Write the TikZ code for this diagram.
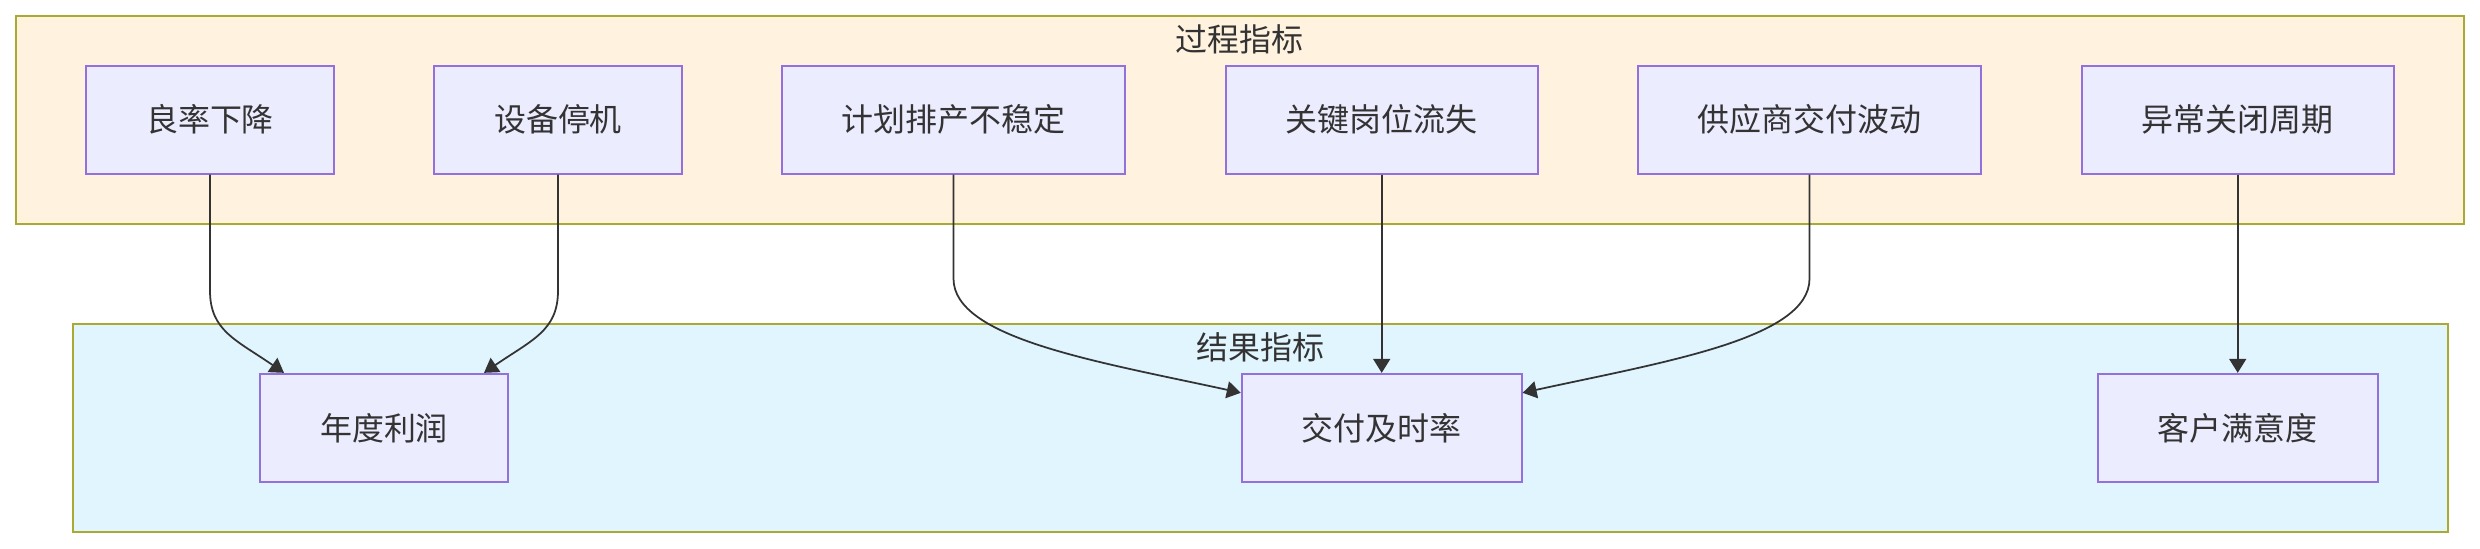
\documentclass[tikz,border=0pt]{standalone}
\usepackage{fontspec}
\usepackage{tikz}
\usetikzlibrary{arrows.meta, positioning, calc}
\newfontfamily\cjk{Noto Sans CJK SC}
\definecolor{mytext}{RGB}{51,51,51}
\definecolor{mypurple}{RGB}{147,112,219}
\definecolor{mylilac}{RGB}{236,236,255}
\definecolor{myolive}{RGB}{170,170,51}
\definecolor{mycream}{RGB}{255,243,224}
\definecolor{mysky}{RGB}{225,245,254}
\tikzset{
  box/.style={rectangle, draw=mypurple, fill=mylilac,
    inner xsep=1.2cm, inner ysep=0pt, minimum height=2.16cm,
    text=mytext, font=\cjk\fontsize{18.2}{22}\selectfont, line width=1.1pt},
  cluster/.style={rectangle, draw=myolive, inner sep=0pt,
    minimum height=4.16cm, line width=1.1pt},
  grouptitle/.style={text=mytext, font=\cjk\fontsize{18.2}{22}\selectfont},
  arrow/.style={-{Triangle[length=0.28cm, width=0.34cm]}, line width=1pt, color=mytext}
}

\begin{document}
\begin{tikzpicture}[x=0.02cm, y=0.02cm]
  \useasboundingbox (0,0) rectangle (2480,-548);

  % Process indicators
  \node[cluster, fill=mycream, minimum width=48.97cm] (proc) at (1239.8,-119.7) {};
  \node[grouptitle] (proct) at (1239.8,-39) {过程指标};
  \node[box] (lr) at (210,-119.7) {良率下降};
  \node[box] (sb) at (558,-119.7) {设备停机};
  \node[box] (jh) at (953.5,-119.7) {计划排产不稳定};
  \node[box] (gj) at (1381.7,-119.7) {关键岗位流失};
  \node[box] (gy) at (1809.5,-119.7) {供应商交付波动};
  \node[box] (yc) at (2237.7,-119.7) {异常关闭周期};

  % Result indicators
  \node[cluster, fill=mysky, minimum width=47.5cm] (res) at (1260.3,-427.8) {};
  \node[grouptitle] (rest) at (1260.3,-347) {结果指标};
  \node[box] (np) at (384,-427.8) {年度利润};
  \node[box] (jf) at (1381.7,-427.8) {交付及时率};
  \node[box] (kh) at (2237.7,-427.8) {客户满意度};

  \draw[arrow] (lr.south) -- ++(0,-116) .. controls +(0,-40) and +(-48,33) .. ($(np.north)+(-100,0)$);
  \draw[arrow] (sb.south) -- ++(0,-116) .. controls +(0,-40) and +(48,33) .. ($(np.north)+(100,0)$);
  \draw[arrow] (jh.south) -- ++(0,-104) .. controls +(0,-60) and +(-142,31) .. ($(jf.west)+(0,35)$);
  \draw[arrow] (gj.south) -- (jf.north);
  \draw[arrow] (gy.south) -- ++(0,-104) .. controls +(0,-60) and +(142,31) .. ($(jf.east)+(0,35)$);
  \draw[arrow] (yc.south) -- (kh.north);
\end{tikzpicture}
\end{document}
